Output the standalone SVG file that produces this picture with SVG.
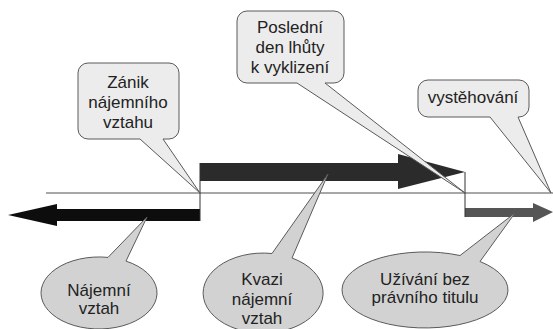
<svg xmlns="http://www.w3.org/2000/svg" width="553" height="329" viewBox="0 0 553 329">
<style>
.box{fill:#ececec;stroke:#5a5a5a;stroke-width:1}
.ell{fill:#d2d2d2;stroke:#5a5a5a;stroke-width:1}
.t{font-family:"Liberation Sans",Arial,sans-serif;font-size:17px;fill:#222;text-anchor:middle}
.vl{stroke:#333;stroke-width:1;fill:none}
</style>
<rect width="553" height="329" fill="#fff"/>
<g id="connectors">
<line x1="46" y1="193" x2="553" y2="193" stroke="#8a8a8a" stroke-width="1.5"/>
<polygon points="200,209 57,209 57,204 8,215 57,226 57,221 200,221" fill="#0d0d0d"/>
<polygon points="200,163 398,163 398,154 465,172 398,189 398,181 200,181" fill="#2b2b2b"/>
<polygon points="465,208 533,208 533,203 553,212 533,222 533,217 465,217" fill="#555"/>
<line class="vl" x1="200" y1="163" x2="200" y2="221"/>
<line class="vl" x1="465" y1="172" x2="465" y2="217"/>
</g>
<g id="zanik">
<path class="box" d="M88,63 H169 A10,10 0 0 1 179,73 V129 A10,10 0 0 1 169,139 H163 L200,193 L140,139 H88 A10,10 0 0 1 78,129 V73 A10,10 0 0 1 88,63 Z"/>
<text class="t" x="128" y="88">Zánik</text>
<text class="t" x="128" y="108">nájemního</text>
<text class="t" x="128" y="128">vztahu</text>
</g>
<g id="posledni">
<path class="box" d="M247,11 H334 A10,10 0 0 1 344,21 V73 A10,10 0 0 1 334,83 H325 L465,193 L297,83 H247 A10,10 0 0 1 237,73 V21 A10,10 0 0 1 247,11 Z"/>
<text class="t" x="290" y="33">Poslední</text>
<text class="t" x="290" y="53">den lhůty</text>
<text class="t" x="290" y="73">k vyklizení</text>
</g>
<g id="vystehovani">
<path class="box" d="M428,80 H519 A10,10 0 0 1 529,90 V107 A10,10 0 0 1 519,117 H518 L551,193 L490,117 H428 A10,10 0 0 1 418,107 V90 A10,10 0 0 1 428,80 Z"/>
<text class="t" x="473" y="103">vystěhování</text>
</g>
<g id="najemni">
<path class="ell" d="M126,261.1 L147,217 L108,257.4 A58,36 0 1 0 126,261.1 Z"/>
<text class="t" x="99" y="296">Nájemní</text>
<text class="t" x="99" y="314">vztah</text>
</g>
<g id="kvazi">
<path class="ell" d="M292,258 L328,174 L272,253.5 A60,40 0 1 0 292,258 Z"/>
<text class="t" x="262" y="285">Kvazi</text>
<text class="t" x="262" y="305">nájemní</text>
<text class="t" x="262" y="324">vztah</text>
</g>
<g id="uzivani">
<path class="ell" d="M480,261.5 L515,213 L460,255.5 A83,38 0 1 0 480,261.5 Z"/>
<text class="t" x="425" y="285">Užívání bez</text>
<text class="t" x="425" y="303">právního titulu</text>
</g>
</svg>
